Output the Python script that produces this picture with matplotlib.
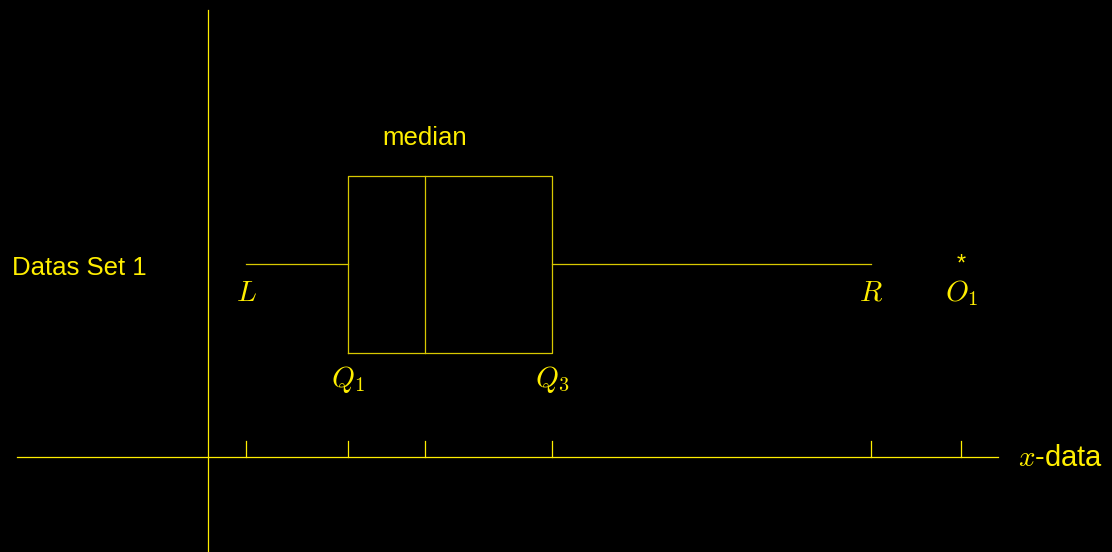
import matplotlib.pyplot as plt

# box plot summary values (x-data units)
names = ['L', 'Q1', 'median', 'Q3', 'R', 'O1']
values = [1.0, 3.68, 5.71, 9.05, 17.45, 19.82]
L, Q1, MED, Q3, R, O1 = values
tick_labels = [r'$L$', r'$Q_1$', '', r'$Q_3$', r'$R$', r'$O_1$']
set_name = 'Datas Set 1'

yellow = '#ffee00'
plt.rcParams['font.family'] = ['Liberation Sans', 'DejaVu Sans']
plt.rcParams['mathtext.fontset'] = 'cm'

fig = plt.figure(figsize=(11.12, 5.52), dpi=100, facecolor='black')
ax = fig.add_axes([0, 0, 1, 1])
ax.set_facecolor('black')
ax.set_xlim(-5.474, 23.79)
ax.set_ylim(-2.5, 12.03)
ax.axis('off')

lw = 0.9
# axes
ax.plot([-5.03, 20.79], [0, 0], color=yellow, lw=lw)
ax.plot([0, 0], [-2.5, 11.76], color=yellow, lw=lw)
ax.text(21.32, -0.02, r'$x$-data', color=yellow, fontsize=21, va='center', ha='left')

# ticks on x axis
for v in values:
    ax.plot([v, v], [0, 0.42], color=yellow, lw=lw)

# box and whiskers
yc, h = 5.08, 2.33
ax.plot([Q1, Q3, Q3, Q1, Q1], [yc - h, yc - h, yc + h, yc + h, yc - h], color='#d8c800', lw=lw)
ax.plot([MED, MED], [yc - h, yc + h], color='#d8c800', lw=lw)
ax.plot([L, Q1], [yc, yc], color='#d8c800', lw=lw)
ax.plot([Q3, R], [yc, yc], color='#d8c800', lw=lw)
ax.text(O1, yc - 0.02, '*', color=yellow, fontsize=17, ha='center', va='center')

# labels
lab_font = 21
ax.text(L, yc - 0.75, tick_labels[0], color=yellow, fontsize=lab_font, ha='center', va='center')
ax.text(R, yc - 0.75, tick_labels[4], color=yellow, fontsize=lab_font, ha='center', va='center')
ax.text(O1, yc - 0.75, tick_labels[5], color=yellow, fontsize=lab_font, ha='center', va='center')
ax.text(Q1, yc - h - 0.7, tick_labels[1], color=yellow, fontsize=lab_font, ha='center', va='center')
ax.text(Q3, yc - h - 0.7, tick_labels[3], color=yellow, fontsize=lab_font, ha='center', va='center')
ax.text(MED, yc + h + 0.98, 'median', color=yellow, fontsize=18.5, ha='center', va='center')
ax.text(-5.16, yc - 0.1, set_name, color=yellow, fontsize=18.5, ha='left', va='center')

fig.savefig('out.png', dpi=100, facecolor='black')
